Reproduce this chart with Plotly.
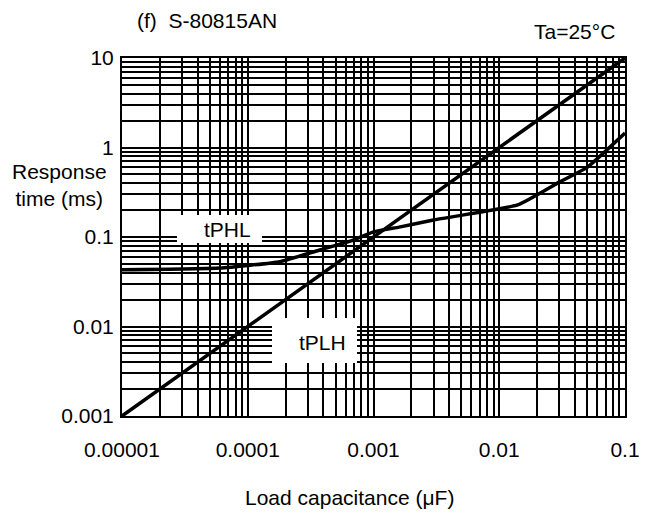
import plotly.graph_objects as go

# load capacitance (uF) vs response time (ms)
tplh_x = [1e-5, 0.1]
tplh_y = [0.001, 10]

tphl_x = [1e-5, 6e-5, 1.8e-4, 3.8e-4, 7e-4, 1e-3, 1.6e-3, 3e-3, 1.4e-2, 3e-2, 5e-2, 0.1]
tphl_y = [0.043, 0.045, 0.053, 0.072, 0.093, 0.114, 0.129, 0.155, 0.228, 0.41, 0.6, 1.45]

x_ticks = [1e-5, 1e-4, 1e-3, 1e-2, 1e-1]
x_labels = ['0.00001', '0.0001', '0.001', '0.01', '0.1']
y_ticks = [0.001, 0.01, 0.1, 1, 10]
y_labels = ['0.001', '0.01', '0.1', '1', '10']

FONT = 'Liberation Sans, Arial, sans-serif'

x_minor = [k * 10 ** e for e in range(-5, -1) for k in range(2, 10)]
y_minor = [k * 10 ** e for e in range(-3, 1) for k in range(2, 10)]

fig = go.Figure()
fig.add_trace(go.Scatter(x=tplh_x, y=tplh_y, mode='lines', cliponaxis=False,
                         line=dict(color='black', width=3.5)))
fig.add_trace(go.Scatter(x=tphl_x, y=tphl_y, mode='lines', cliponaxis=False,
                         line=dict(color='black', width=3.5, shape='spline', smoothing=0.4)))

axis_common = dict(type='log', tickmode='array', showgrid=True, gridcolor='black', gridwidth=2,
                   showline=True, linecolor='black', linewidth=2, mirror=True, zeroline=False,
                   ticks='', tickfont=dict(family=FONT, size=21, color='black'))

fig.update_xaxes(range=[-5, -1], tickvals=x_ticks, ticktext=x_labels, ticklabelstandoff=14,
                 minor=dict(tickvals=x_minor, showgrid=True, gridcolor='black', gridwidth=2),
                 **axis_common)
fig.update_yaxes(range=[-3, 1], tickvals=y_ticks, ticktext=y_labels, ticklabelstandoff=2,
                 minor=dict(tickvals=y_minor, showgrid=True, gridcolor='black', gridwidth=2),
                 **axis_common)

# white label boxes covering the grid
for x0, x1, y0, y1 in [(0.1093, 0.2783, 0.4832, 0.5615), (0.2982, 0.4672, 0.148, 0.2737)]:
    fig.add_shape(type='rect', xref='paper', yref='paper', x0=x0, x1=x1, y0=y0, y1=y1,
                  fillcolor='white', line=dict(width=0), layer='above')

txt = dict(family=FONT, size=21, color='black')


def label(text, x, y, xanchor='center'):
    fig.add_annotation(text=text, xref='paper', yref='paper', x=x, y=y, xanchor=xanchor,
                       yanchor='middle', showarrow=False, align='center', font=txt)


label('tPHL', 0.2107, 0.5196)
label('tPLH', 0.3996, 0.2067)
label('(f)&nbsp; S-80815AN', 0.0258, 1.106, 'left')
label('Ta=25°C', 0.984, 1.0754, 'right')
label('Response<br>time (ms)', -0.1233, 0.645)
label('Load capacitance (μF)', 0.4523, -0.2263)

fig.update_layout(width=653, height=514, margin=dict(l=122, r=28, t=58, b=98),
                  plot_bgcolor='white', paper_bgcolor='white', showlegend=False)

fig.write_html('out.html', config={'displayModeBar': False},
               post_script="document.body.style.margin='0px';")
